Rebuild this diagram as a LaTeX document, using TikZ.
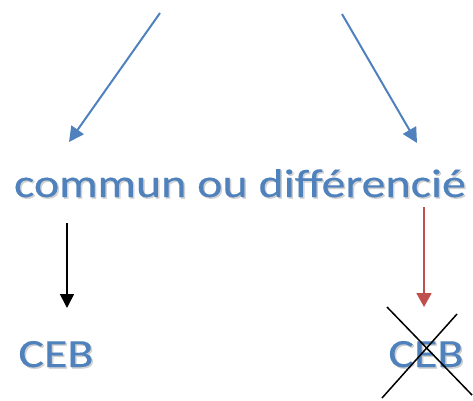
\documentclass[tikz,border=0pt]{standalone}
\usepackage{fontspec}
\setmainfont{Carlito}
\newfontface\thickface{Carlito}[FakeBold=0.3]
\usetikzlibrary{arrows.meta}
\definecolor{accblue}{HTML}{4F81BD}
\definecolor{accred}{HTML}{C0504D}
\tikzset{
  lbl/.style={text=accblue, font=\thickface\fontsize{40}{44}\selectfont, inner sep=0pt, anchor=base, xscale=1.2},
  shd/.style={text=black!35, opacity=0.5, font=\thickface\fontsize{40}{44}\selectfont, inner sep=0pt, anchor=base, xscale=1.2},
  arr/.style={line width=2pt, -{Triangle[length=15pt,width=15pt]}},
  cross/.style={line width=1.5pt, black}
}
\begin{document}
\begin{tikzpicture}[x=1pt,y=-1pt]
\useasboundingbox (0,0) rectangle (473,400);
% shadows
\node[shd] at (241.5,198.5) {commun ou différencié};
\node[shd] at (57.5,368.5) {CEB};
\node[shd] at (427.5,368.5) {CEB};
% texts
\node[lbl] (main) at (240,197) {commun ou différencié};
\node[lbl] (ceba) at (56,367) {CEB};
\node[lbl] (cebb) at (426,367) {CEB};
% arrows
\coordinate (t1) at (160,13);
\coordinate (h1) at (69,142);
\coordinate (t2) at (342,14);
\coordinate (h2) at (417,143);
\coordinate (t3) at (67,223);
\coordinate (h3) at (67,308);
\coordinate (t4) at (424,207);
\coordinate (h4) at (424,307);
\draw[arr, accblue] (t1) -- (h1);
\draw[arr, accblue] (t2) -- (h2);
\draw[black, line width=1.6pt, -{Triangle[length=14pt,width=14pt]}] (t3) -- (h3);
\draw[accred, line width=1.8pt, -{Triangle[length=14pt,width=15pt]}] (t4) -- (h4);
% cross
\coordinate (x1) at (387,307);
\coordinate (x2) at (472,395);
\coordinate (x3) at (457,314);
\coordinate (x4) at (382,398);
\draw[cross] (x1) -- (x2);
\draw[cross] (x3) -- (x4);
\end{tikzpicture}
\end{document}
